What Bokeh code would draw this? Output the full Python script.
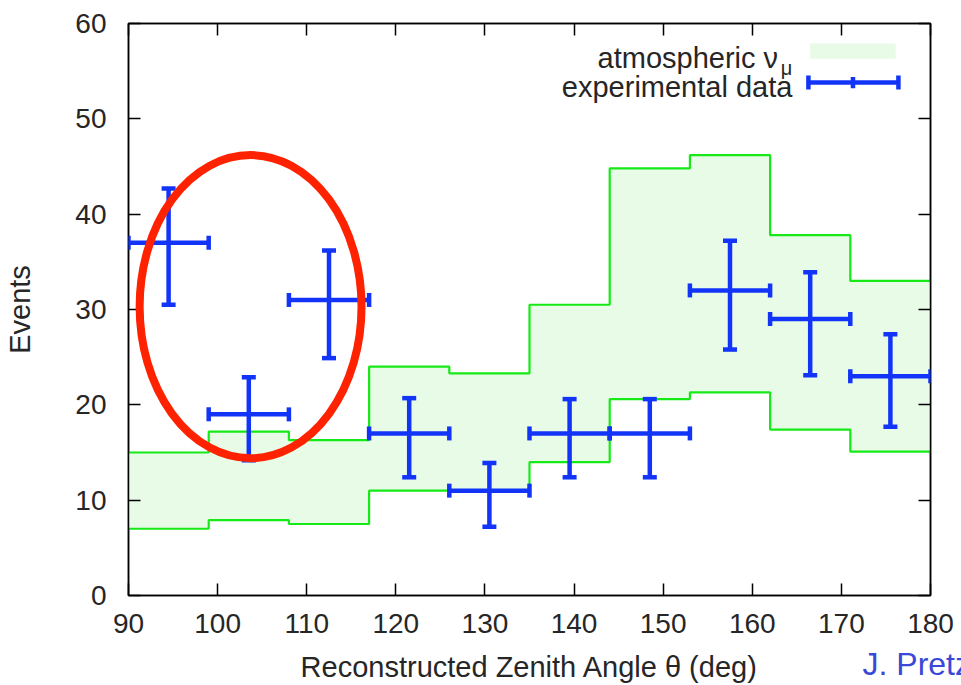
import numpy as np
from bokeh.plotting import figure
from bokeh.models import (ColumnDataSource, Whisker, TeeHead, LinearAxis,
                          SingleIntervalTicker, Label, BoxAnnotation, Range1d, Title)
from bokeh.embed import file_html
from bokeh.resources import INLINE

# ---------------- data ----------------
bin_edges = [90, 99, 108, 117, 126, 135, 144, 153, 162, 171, 180]
events = [37, 19, 31, 17, 11, 17, 17, 32, 29, 23]
events_hi = [42.7, 22.9, 36.2, 20.7, 13.9, 20.6, 20.6, 37.2, 33.9, 27.4]
events_lo = [30.5, 14.2, 24.9, 12.4, 7.2, 12.4, 12.4, 25.8, 23.1, 17.7]
mc_upper = [15.0, 17.2, 16.3, 24.0, 23.3, 30.5, 44.8, 46.2, 37.8, 33.0]
mc_lower = [7.0, 7.9, 7.5, 11.0, 11.0, 14.0, 20.6, 21.3, 17.4, 15.1]
x_ticks = [90, 100, 110, 120, 130, 140, 150, 160, 170, 180]
y_ticks = [0, 10, 20, 30, 40, 50, 60]

FONT = "Liberation Sans"
BLUE = "#1234f8"
GREEN = "#16ea16"
FILL = "#e7fbe7"
TXT = "#262626"

edges = np.array(bin_edges, dtype=float)
lo_edge = edges[:-1]
hi_edge = edges[1:]
centers = (lo_edge + hi_edge) / 2

# step outline of the simulated band
step_x = np.repeat(edges, 2)[1:-1]
step_up = np.repeat(mc_upper, 2)
step_dn = np.repeat(mc_lower, 2)

p = figure(width=961, height=685, x_range=Range1d(90, 180), y_range=Range1d(0, 60),
           output_backend="svg", toolbar_location=None,
           min_border_left=128, min_border_right=31, min_border_top=23,
           min_border_bottom=90, x_axis_label="Reconstructed Zenith Angle θ (deg)",
           y_axis_label="Events")
p.grid.visible = False
p.outline_line_color = "black"
p.outline_line_width = 1.5
p.background_fill_color = "white"
p.border_fill_color = "white"

for ax in (p.xaxis[0], p.yaxis[0]):
    ax.ticker = SingleIntervalTicker(interval=10)
    ax.major_tick_in = 12
    ax.major_tick_out = 0
    ax.minor_tick_line_color = None
    ax.axis_line_width = 1.5
    ax.major_tick_line_width = 1.5
    ax.major_label_text_font = FONT
    ax.major_label_text_font_size = "28px"
    ax.major_label_text_color = TXT
    ax.axis_label_text_font = FONT
    ax.axis_label_text_font_size = "29px"
    ax.axis_label_text_font_style = "normal"
    ax.axis_label_text_color = TXT

p.xaxis[0].major_label_standoff = 14
p.xaxis[0].axis_label_standoff = 15
p.yaxis[0].major_label_standoff = 18
p.yaxis[0].axis_label_standoff = 36

# mirrored ticks on top and right
for side in ("above", "right"):
    ax = LinearAxis(ticker=SingleIntervalTicker(interval=10))
    ax.major_label_text_font_size = "0px"
    ax.major_label_standoff = 0
    ax.major_tick_in = 12
    ax.major_tick_out = 0
    ax.minor_tick_line_color = None
    ax.axis_line_width = 1.5
    ax.major_tick_line_width = 1.5
    p.add_layout(ax, side)

# simulated atmospheric band
p.varea(x=step_x, y1=step_dn, y2=step_up, fill_color=FILL)
p.line(step_x, step_up, line_color=GREEN, line_width=2.2)
p.line(step_x, step_dn, line_color=GREEN, line_width=2.2)

# experimental data with error bars
src = ColumnDataSource(dict(xc=centers, xl=lo_edge, xh=hi_edge, y=events,
                            yl=events_lo, yh=events_hi))


def head():
    return TeeHead(size=14, line_color=BLUE, line_width=4.5)


p.add_layout(Whisker(source=src, base="xc", lower="yl", upper="yh", dimension="height",
                     line_color=BLUE, line_width=4.5, upper_head=head(), lower_head=head(),
                     level="annotation"))
p.add_layout(Whisker(source=src, base="y", lower="xl", upper="xh", dimension="width",
                     line_color=BLUE, line_width=4.5, upper_head=head(), lower_head=head(),
                     level="annotation"))

# red highlight ellipse
p.ellipse(x=103.7, y=30.3, width=24.9, height=31.8, fill_color=None,
          line_color="#ff2200", line_width=8, level="overlay")

# legend (label left, sample right, as in the original)
p.add_layout(Label(x=162.9, y=56.4, text="atmospheric ν", text_align="right",
                   text_baseline="alphabetic", text_font=FONT, text_font_size="29px",
                   text_color=TXT))
p.add_layout(Label(x=163.2, y=55.3, text="μ", text_align="left",
                   text_baseline="alphabetic", text_font=FONT, text_font_size="20px",
                   text_color=TXT))
p.add_layout(Label(x=164.5, y=53.3, text="experimental data", text_align="right",
                   text_baseline="alphabetic", text_font=FONT, text_font_size="29px",
                   text_color=TXT))
p.add_layout(BoxAnnotation(left=166.5, right=176.1, bottom=56.3, top=57.9,
                           fill_color=FILL, fill_alpha=1, line_color=None))
leg_src = ColumnDataSource(dict(y=[53.8], l=[166.3], h=[176.4]))
p.add_layout(Whisker(source=leg_src, base="y", lower="l", upper="h", dimension="width",
                     line_color=BLUE, line_width=4.5, upper_head=head(), lower_head=head(),
                     level="annotation"))
p.add_layout(Whisker(source=ColumnDataSource(dict(x=[171.3], l=[53.2], h=[54.4])),
                     base="x", lower="l", upper="h", dimension="height",
                     line_color=BLUE, line_width=4.5, upper_head=None, lower_head=None,
                     level="annotation"))

# author credit, in the bottom side panel (not clipped to the frame)
credit = Title(text="J. Pretz", align="left", vertical_align="top", offset=734,
               standoff=-80, text_font=FONT, text_font_size="32px",
               text_font_style="normal", text_color="#3a48d8")
p.add_layout(credit, "below")

open("out.html", "w").write(file_html(p, INLINE))
